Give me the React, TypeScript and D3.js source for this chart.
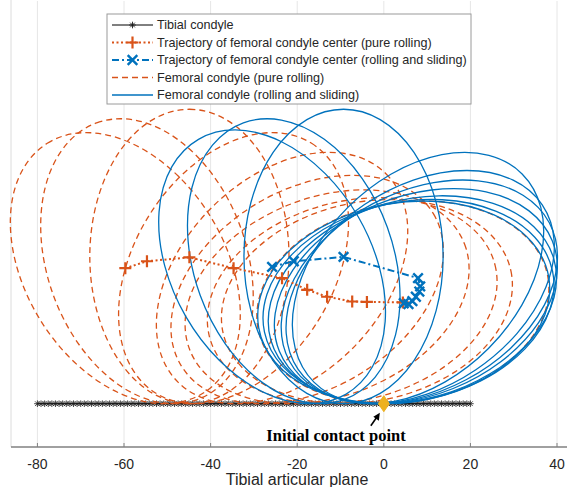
import React from "react";
import * as d3 from "d3";

// ---------- data ----------
const X_TICKS = [-80, -60, -40, -20, 0, 20, 40];

// tibial condyle: flat line y = 0 sampled from -80 to 20
const TIBIA_START = -80;
const TIBIA_END = 20;
const TIBIA_SAMPLES = 121;

// femoral condyle ellipse semi-axes
const CONDYLE_A = 34;
const CONDYLE_B = 23;

// pure rolling: centre trajectory and ellipse orientation (deg, CCW from +x)
const ROLL_X = [4.4, -3.9, -7.3, -13.1, -17.7, -23.5, -34.7, -44.9, -54.7, -59.7];
const ROLL_Y = [23.4, 23.5, 23.6, 24.7, 26.3, 29.0, 31.3, 33.8, 32.9, 31.3];
const ROLL_ANGLE = [10, 12, 14, 21, 31, 45, 58, 90, 110, 122];

// rolling and sliding
const SLIDE_X = [4.6, 5.7, 6.6, 7.4, 8.2, 8.4, 7.9, -9.3, -20.8, -25.8];
const SLIDE_Y = [23.2, 23.0, 23.7, 24.7, 25.9, 27.1, 29.0, 33.9, 32.9, 31.6];
const SLIDE_ANGLE = [10, 12, 16, 22, 28, 34, 45, 90, 110, 120];

const CONTACT_X = 0;
const CONTACT_Y = 0;

const LEGEND_LABELS = [
  "Tibial condyle",
  "Trajectory of femoral condyle center (pure rolling)",
  "Trajectory of femoral condyle center (rolling and sliding)",
  "Femoral condyle (pure rolling)",
  "Femoral condyle (rolling and sliding)",
];

const BLUE = "#0072BD";
const ORANGE = "#D95319";
const YELLOW = "#EDB120";
const TXT = "#262626";

const W = 567;
const H = 487;

const xs = d3.scaleLinear().domain([-86.1, 44]).range([11, 11 + 130.1 * 4.33]);
const K = xs(1) - xs(0);
const ys = d3.scaleLinear().domain([-10, 93]).range([447, 447 - 103 * K]);

function centreHeight(deg: number) {
  const t = (deg * Math.PI) / 180;
  const s = Math.sin(t), c = Math.cos(t);
  return Math.sqrt(CONDYLE_A * CONDYLE_A * s * s + CONDYLE_B * CONDYLE_B * c * c);
}

function Asterisk({ x, y, r, stroke, sw }: { x: number; y: number; r: number; stroke: string; sw: number }) {
  const d = r * 0.7071;
  return (
    <path
      d={`M${x - r},${y}L${x + r},${y}M${x},${y - r}L${x},${y + r}M${x - d},${y - d}L${x + d},${y + d}M${x - d},${y + d}L${x + d},${y - d}`}
      stroke={stroke}
      strokeWidth={sw}
      fill="none"
    />
  );
}

function Plus({ x, y, r }: { x: number; y: number; r: number }) {
  return <path d={`M${x - r},${y}L${x + r},${y}M${x},${y - r}L${x},${y + r}`} stroke={ORANGE} strokeWidth={2.2} fill="none" />;
}

function Cross({ x, y, r }: { x: number; y: number; r: number }) {
  return <path d={`M${x - r},${y - r}L${x + r},${y + r}M${x - r},${y + r}L${x + r},${y - r}`} stroke={BLUE} strokeWidth={2.4} fill="none" />;
}

export default function App() {
  const tibiaX = d3.range(TIBIA_SAMPLES).map((i) => TIBIA_START + ((TIBIA_END - TIBIA_START) * i) / (TIBIA_SAMPLES - 1));
  const line = d3
    .line<[number, number]>()
    .x((d) => xs(d[0]))
    .y((d) => ys(d[1]));

  const rollPts: [number, number][] = ROLL_X.map((x, i) => [x, ROLL_Y[i]]);
  const slidePts: [number, number][] = SLIDE_X.map((x, i) => [x, SLIDE_Y[i]]);

  const ellipse = (x: number, deg: number, key: string, color: string, dash?: string) => {
    const cx = xs(x);
    const cy = ys(centreHeight(deg));
    return (
      <ellipse
        key={key}
        cx={cx}
        cy={cy}
        rx={CONDYLE_A * K}
        ry={CONDYLE_B * K}
        transform={`rotate(${-deg} ${cx} ${cy})`}
        fill="none"
        stroke={color}
        strokeWidth={1.3}
        strokeDasharray={dash}
      />
    );
  };

  const plotTop = ys.range()[1];
  const legY = [25, 42.5, 60, 77.5, 95];
  const lx0 = 112, lx1 = 153, lmx = 132.5;

  return (
    <svg width={W} height={H} style={{ position: "absolute", left: 0, top: 0, background: "#fff" }} fontFamily="'Liberation Sans', Arial, sans-serif">
      <rect x={0} y={0} width={W} height={H} fill="#fff" />
      {/* grid */}
      {X_TICKS.map((t) => (
        <line key={"g" + t} x1={xs(t)} x2={xs(t)} y1={Math.max(0, plotTop)} y2={ys(-10)} stroke="#e6e6e6" strokeWidth={1} />
      ))}
      <line x1={xs(-86.1)} x2={xs(-86.1)} y1={0} y2={ys(-10)} stroke="#dcdcdc" strokeWidth={1} />

      {/* tibial condyle */}
      <path d={line(tibiaX.map((x) => [x, 0]))!} stroke="#000" strokeWidth={1} fill="none" />
      {tibiaX.map((x, i) => (
        <Asterisk key={"t" + i} x={xs(x)} y={ys(0)} r={3.3} stroke="#1a1a1a" sw={0.8} />
      ))}

      {/* femoral condyles */}
      {ROLL_X.map((x, i) => ellipse(x, ROLL_ANGLE[i], "re" + i, ORANGE, "6 4"))}
      {SLIDE_X.map((x, i) => ellipse(x, SLIDE_ANGLE[i], "se" + i, BLUE))}

      {/* trajectories */}
      <path d={line(rollPts)!} stroke={ORANGE} strokeWidth={2} strokeDasharray="2 2.5" fill="none" />
      {rollPts.map((p, i) => (
        <Plus key={"rp" + i} x={xs(p[0])} y={ys(p[1])} r={6} />
      ))}
      <path d={line(slidePts)!} stroke={BLUE} strokeWidth={2} strokeDasharray="7 3 2 3" fill="none" />
      {slidePts.map((p, i) => (
        <Cross key={"sp" + i} x={xs(p[0])} y={ys(p[1])} r={4.8} />
      ))}

      {/* contact point */}
      <path
        d={`M${xs(CONTACT_X)},${ys(CONTACT_Y) - 8}L${xs(CONTACT_X) + 5.5},${ys(CONTACT_Y)}L${xs(CONTACT_X)},${ys(CONTACT_Y) + 8}L${xs(CONTACT_X) - 5.5},${ys(CONTACT_Y)}Z`}
        fill={YELLOW}
        stroke={YELLOW}
        strokeWidth={1}
      />
      <line x1={xs(CONTACT_X) - 13} y1={ys(CONTACT_Y) + 22} x2={xs(CONTACT_X) - 6} y2={ys(CONTACT_Y) + 12} stroke="#000" strokeWidth={1.6} />
      <path
        d={`M${xs(CONTACT_X) - 4},${ys(CONTACT_Y) + 9}L${xs(CONTACT_X) - 5},${ys(CONTACT_Y) + 17}L${xs(CONTACT_X) - 10.5},${ys(CONTACT_Y) + 13}Z`}
        fill="#000"
      />
      <text x={336} y={441} textAnchor="middle" fontFamily="'Liberation Serif', 'Times New Roman', serif" fontWeight="bold" fontSize={16.5} fill="#000">
        Initial contact point
      </text>

      {/* x axis */}
      <line x1={11} x2={W} y1={ys(-10)} y2={ys(-10)} stroke="#808080" strokeWidth={1.5} />
      {X_TICKS.map((t) => (
        <g key={"xt" + t}>
          <line x1={xs(t)} x2={xs(t)} y1={ys(-10)} y2={ys(-10) - 4} stroke="#808080" strokeWidth={1} />
          <text x={xs(t)} y={469} textAnchor="middle" fontSize={14} fill={TXT}>
            {t === 0 ? "0" : t < 0 ? "-" + Math.abs(t) : String(t)}
          </text>
        </g>
      ))}
      <text x={297} y={485} textAnchor="middle" fontSize={16} fill={TXT}>
        Tibial articular plane
      </text>

      {/* legend */}
      <rect x={107} y={14} width={364} height={90} fill="#fff" stroke="#9a9a9a" strokeWidth={1} />
      <line x1={lx0} x2={lx1} y1={legY[0]} y2={legY[0]} stroke="#000" strokeWidth={1} />
      <Asterisk x={lmx} y={legY[0]} r={3.3} stroke="#1a1a1a" sw={0.9} />
      <line x1={lx0} x2={lx1} y1={legY[1]} y2={legY[1]} stroke={ORANGE} strokeWidth={2} strokeDasharray="2 2.5" />
      <Plus x={lmx} y={legY[1]} r={6} />
      <line x1={lx0} x2={lx1} y1={legY[2]} y2={legY[2]} stroke={BLUE} strokeWidth={2} strokeDasharray="7 3 2 3" />
      <Cross x={lmx} y={legY[2]} r={4.8} />
      <line x1={lx0} x2={lx1} y1={legY[3]} y2={legY[3]} stroke={ORANGE} strokeWidth={1.3} strokeDasharray="6 4" />
      <line x1={lx0} x2={lx1} y1={legY[4]} y2={legY[4]} stroke={BLUE} strokeWidth={1.3} />
      {LEGEND_LABELS.map((s, i) => (
        <text key={"lt" + i} x={157} y={legY[i] + 4.4} fontSize={12.6} fill={TXT}>
          {s}
        </text>
      ))}
    </svg>
  );
}
